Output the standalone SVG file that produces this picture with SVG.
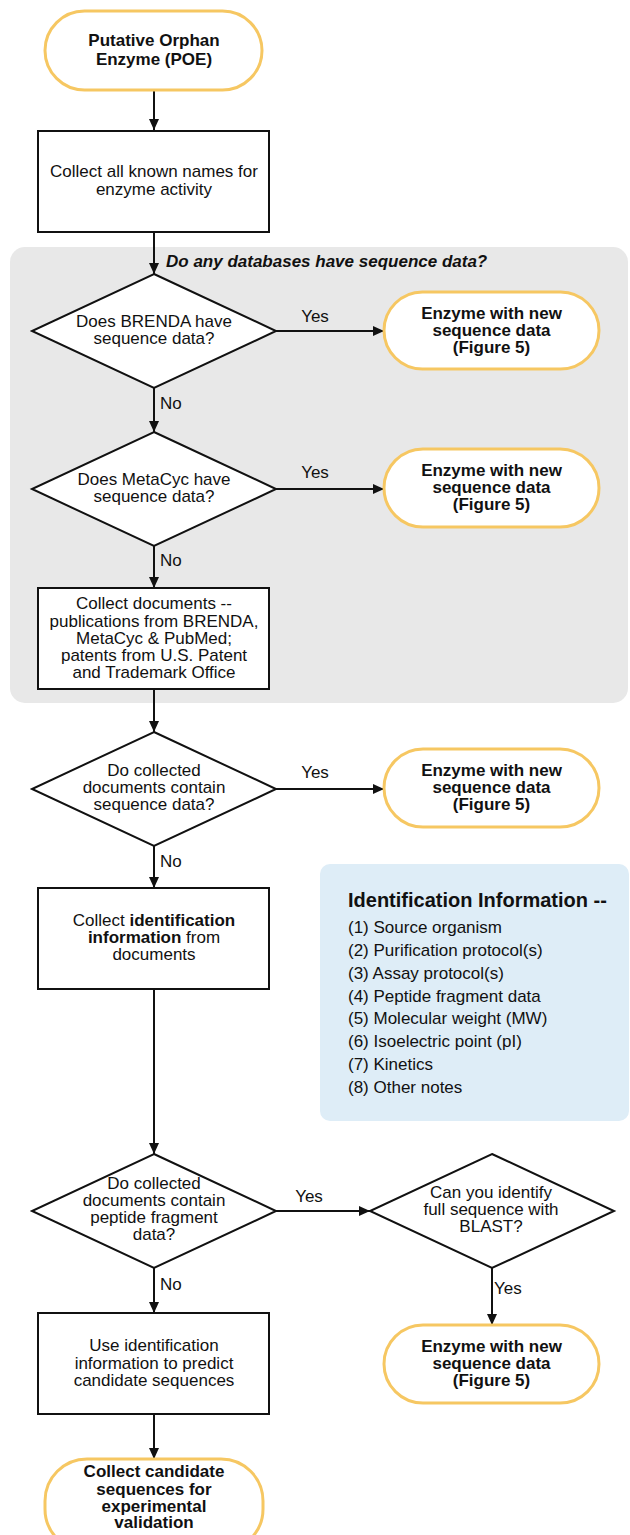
<svg xmlns="http://www.w3.org/2000/svg" width="630" height="1535" viewBox="0 0 630 1535">
<style>
text{font-family:"Liberation Sans",Arial,sans-serif;font-size:17px;fill:#111}
.b{font-weight:bold}
.c{text-anchor:middle}
.h{font-size:20px;font-weight:bold}
.term{fill:#fff;stroke:#f6c762;stroke-width:3}
.box{fill:#fff;stroke:#111;stroke-width:2}
.con line{stroke:#111;stroke-width:2;marker-end:url(#ah)}
</style>
<defs>
<marker id="ah" markerUnits="userSpaceOnUse" markerWidth="12" markerHeight="10" refX="11" refY="5" orient="auto">
<path d="M0,0 L11,5 L0,10 z" fill="#111"/>
</marker>
</defs>
<rect id="group-databases" x="10" y="247" width="618" height="456" rx="15" fill="#e8e8e8"/>
<text class="b" x="166" y="267" font-style="italic">Do any databases have sequence data?</text>
<g id="info">
<rect x="320" y="864" width="309" height="257" rx="10" fill="#deedf7"/>
<text class="h" x="348" y="907">Identification Information --</text>
<text x="348" y="933">(1) Source organism</text>
<text x="348" y="956">(2) Purification protocol(s)</text>
<text x="348" y="979">(3) Assay protocol(s)</text>
<text x="348" y="1002">(4) Peptide fragment data</text>
<text x="348" y="1024">(5) Molecular weight (MW)</text>
<text x="348" y="1047">(6) Isoelectric point (pI)</text>
<text x="348" y="1070">(7) Kinetics</text>
<text x="348" y="1093">(8) Other notes</text>
</g>
<g class="con" id="connectors">
<line x1="154" y1="90" x2="154" y2="130"/>
<line x1="154" y1="232" x2="154" y2="274"/>
<line x1="276" y1="331" x2="384" y2="331"/>
<line x1="154" y1="388" x2="154" y2="432"/>
<line x1="276" y1="489" x2="384" y2="489"/>
<line x1="154" y1="546" x2="154" y2="588"/>
<line x1="154" y1="689" x2="154" y2="732"/>
<line x1="276" y1="789" x2="384" y2="789"/>
<line x1="154" y1="846" x2="154" y2="888"/>
<line x1="154" y1="989" x2="154" y2="1154"/>
<line x1="276" y1="1211" x2="370" y2="1211"/>
<line x1="154" y1="1268" x2="154" y2="1313"/>
<line x1="492" y1="1268" x2="492" y2="1325"/>
<line x1="154" y1="1414" x2="154" y2="1459"/>
<text x="315" y="322" class="c">Yes</text>
<text x="160" y="409">No</text>
<text x="315" y="478" class="c">Yes</text>
<text x="160" y="566">No</text>
<text x="315" y="778" class="c">Yes</text>
<text x="160" y="867">No</text>
<text x="309" y="1202" class="c">Yes</text>
<text x="160" y="1290">No</text>
<text x="494" y="1294">Yes</text>
</g>
<g id="start">
<rect class="term" x="45" y="11" width="217" height="79" rx="39.5"/>
<text class="b c" x="154" y="46">Putative Orphan</text>
<text class="b c" x="154" y="65">Enzyme (POE)</text>
</g>
<g id="collect-names">
<rect class="box" x="38" y="131" width="231" height="101"/>
<text class="c" x="154" y="177">Collect all known names for</text>
<text class="c" x="154" y="195">enzyme activity</text>
</g>
<g id="brenda">
<polygon class="box" points="154,274 276,331 154,388 32,331"/>
<text class="c" x="154" y="327">Does BRENDA have</text>
<text class="c" x="154" y="344">sequence data?</text>
</g>
<g id="enzyme1">
<rect class="term" x="384" y="292" width="215" height="77" rx="38.5"/>
<text class="b c" x="491.5" y="319">Enzyme with new</text>
<text class="b c" x="491.5" y="336">sequence data</text>
<text class="b c" x="491.5" y="353">(Figure 5)</text>
</g>
<g id="metacyc">
<polygon class="box" points="154,432 276,489 154,546 32,489"/>
<text class="c" x="154" y="485">Does MetaCyc have</text>
<text class="c" x="154" y="502">sequence data?</text>
</g>
<g id="enzyme2">
<rect class="term" x="384" y="449" width="215" height="78" rx="39"/>
<text class="b c" x="491.5" y="476">Enzyme with new</text>
<text class="b c" x="491.5" y="493">sequence data</text>
<text class="b c" x="491.5" y="510">(Figure 5)</text>
</g>
<g id="collect-docs">
<rect class="box" x="38" y="588" width="231" height="101"/>
<text class="c" x="154" y="609">Collect documents --</text>
<text class="c" x="154" y="626.5">publications from BRENDA,</text>
<text class="c" x="154" y="644">MetaCyc &amp; PubMed;</text>
<text class="c" x="154" y="661">patents from U.S. Patent</text>
<text class="c" x="154" y="678">and Trademark Office</text>
</g>
<g id="docs-seq">
<polygon class="box" points="154,732 276,789 154,846 32,789"/>
<text class="c" x="154" y="776">Do collected</text>
<text class="c" x="154" y="793">documents contain</text>
<text class="c" x="154" y="810">sequence data?</text>
</g>
<g id="enzyme3">
<rect class="term" x="384" y="749" width="215" height="78" rx="39"/>
<text class="b c" x="491.5" y="776">Enzyme with new</text>
<text class="b c" x="491.5" y="793">sequence data</text>
<text class="b c" x="491.5" y="810">(Figure 5)</text>
</g>
<g id="collect-id">
<rect class="box" x="38" y="888" width="231" height="101"/>
<text class="c" x="154" y="926">Collect <tspan class="b">identification</tspan></text>
<text class="c" x="154" y="943"><tspan class="b">information</tspan> from</text>
<text class="c" x="154" y="960">documents</text>
</g>
<g id="docs-peptide">
<polygon class="box" points="154,1154 276,1211 154,1268 32,1211"/>
<text class="c" x="154" y="1189">Do collected</text>
<text class="c" x="154" y="1206">documents contain</text>
<text class="c" x="154" y="1223">peptide fragment</text>
<text class="c" x="154" y="1240">data?</text>
</g>
<g id="blast">
<polygon class="box" points="492,1154 614,1211 492,1268 370,1211"/>
<text class="c" x="491" y="1198">Can you identify</text>
<text class="c" x="491" y="1215">full sequence with</text>
<text class="c" x="491" y="1232">BLAST?</text>
</g>
<g id="enzyme4">
<rect class="term" x="384" y="1325" width="215" height="78" rx="39"/>
<text class="b c" x="491.5" y="1352">Enzyme with new</text>
<text class="b c" x="491.5" y="1369">sequence data</text>
<text class="b c" x="491.5" y="1386">(Figure 5)</text>
</g>
<g id="predict">
<rect class="box" x="38" y="1313" width="231" height="101"/>
<text class="c" x="154" y="1351">Use identification</text>
<text class="c" x="154" y="1368.5">information to predict</text>
<text class="c" x="154" y="1386">candidate sequences</text>
</g>
<g id="end">
<rect class="term" x="45" y="1459" width="218" height="92" rx="42"/>
<text class="b c" x="154" y="1477">Collect candidate</text>
<text class="b c" x="154" y="1494.5">sequences for</text>
<text class="b c" x="154" y="1511.5">experimental</text>
<text class="b c" x="154" y="1528">validation</text>
</g>
</svg>
